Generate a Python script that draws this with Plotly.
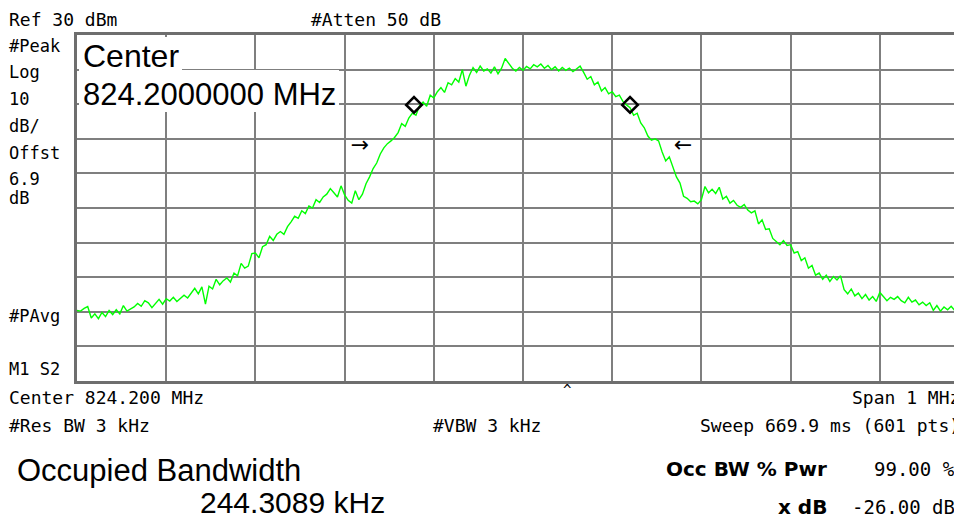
import numpy as np
import plotly.graph_objects as go

# ---------------- data ----------------
center_mhz = 824.2
span_mhz = 1.0
ref_dbm = 30
db_per_div = 10
step_mhz = 0.004  # spacing of the read-off trace samples

trace_dbm = [
    -49.6, -49.8, -49.0, -48.5, -51.8, -50.6, -52.0, -50.2, -51.4, -49.6,
    -50.8, -49.4, -50.6, -48.2, -49.8, -49.2, -48.6, -47.6, -48.4, -46.8,
    -47.4, -48.8, -47.6, -46.4, -47.8, -46.2, -46.9, -45.8, -47.0, -46.0,
    -45.2, -46.0, -44.6, -43.2, -44.8, -42.8, -47.8, -42.6, -43.4, -40.6,
    -42.2, -41.0, -40.2, -41.4, -38.8, -39.6, -36.0, -37.4, -36.8, -33.2,
    -33.0, -34.4, -31.2, -30.6, -28.2, -29.4, -27.6, -26.8, -27.6, -25.4,
    -24.0, -22.4, -23.0, -20.8, -21.6, -19.4, -20.0, -17.6, -18.4, -16.8,
    -16.0, -14.4, -15.6, -16.8, -13.6, -16.2, -17.8, -18.6, -15.0, -17.6,
    -16.0, -13.0, -11.0, -8.6, -7.0, -4.4, -2.6, -1.4, -0.6, 0.4,
    1.8, 4.4, 3.6, 6.0, 7.4, 6.8, 9.6, 10.6, 9.4, 12.6,
    11.8, 13.6, 14.8, 13.4, 16.2, 15.6, 17.4, 16.4, 20.0, 15.2,
    18.4, 20.6, 19.2, 21.0, 19.6, 20.2, 19.0, 20.8, 18.8, 20.4,
    23.2, 21.6, 20.4, 19.6, 20.6, 19.8, 20.9, 20.2, 21.4, 20.8,
    21.6, 20.4, 21.2, 20.0, 20.8, 19.6, 20.6, 19.8, 20.4, 19.4,
    20.2, 21.0, 19.2, 17.2, 18.0, 15.6, 16.4, 13.8, 14.8, 13.0,
    13.6, 12.2, 12.6, 10.8, 9.8, 9.0, 6.8, 7.4, 4.6, 3.2,
    0.8, -0.4, 0.0, -0.6, -3.8, -6.4, -5.2, -8.4, -11.0, -12.8,
    -16.6, -17.2, -18.2, -18.0, -18.8, -17.6, -13.8, -15.6, -14.6, -15.8,
    -14.0, -17.4, -16.6, -18.6, -17.8, -19.2, -19.8, -19.0, -20.6, -21.4,
    -20.8, -24.6, -23.4, -26.2, -26.0, -28.8, -29.8, -30.6, -29.4, -30.8,
    -30.6, -33.0, -32.6, -35.2, -34.4, -37.4, -36.6, -39.4, -38.8, -40.6,
    -39.4, -41.2, -39.8, -40.8, -39.6, -43.6, -44.8, -43.4, -45.4, -44.6,
    -46.2, -45.0, -46.6, -45.6, -47.0, -44.4, -45.6, -46.8, -45.8, -46.4,
    -45.6, -46.8, -47.4, -45.8, -47.2, -46.6, -48.0, -47.2, -48.2, -47.4,
    -49.6, -48.2, -49.8, -48.6, -49.4, -48.4, -49.6, -48.0, -47.2,
]

marker_freq_mhz = [824.0778, 824.3200]
marker_dbm = [9.8, 9.8]

arrow_freq_mhz = [824.0173, 824.3794]
arrow_dbm = [-2.1, -2.1]
arrow_text = ["→", "←"]

start_mhz = center_mhz - span_mhz / 2
freqs = [start_mhz + i * step_mhz for i in range(len(trace_dbm))]

# ---------------- layout helpers ----------------
# page pixels of the plot frame (the page body has an 8 px margin)
OFF = 8
L, R, T, B = 77, 962, 35, 381
W, H = 962 - OFF, 522 - OFF
def px(x):
    return (x - L) / (R - L)
def py(y):
    return (B - y) / (B - T)

visible_span = span_mhz * (R - L) / 892.0

fig = go.Figure()
fig.add_trace(go.Scatter(
    x=freqs, y=trace_dbm, mode="lines",
    line=dict(color="#00ff00", width=1.4),
    hoverinfo="skip", showlegend=False,
))
fig.add_trace(go.Scatter(
    x=marker_freq_mhz, y=marker_dbm, mode="markers",
    marker=dict(symbol="diamond-open", size=12, color="black",
                line=dict(width=2.6, color="black")),
    showlegend=False, hoverinfo="skip",
))
fig.add_trace(go.Scatter(
    x=arrow_freq_mhz, y=arrow_dbm, mode="text", text=arrow_text,
    textfont=dict(family="DejaVu Sans", size=22, color="black"),
    showlegend=False, hoverinfo="skip",
))

grid = "#7f7f7f"
fig.update_layout(
    width=W, height=H,
    margin=dict(l=L - OFF, r=W - (R - OFF), t=T - OFF, b=H - (B - OFF), pad=0),
    paper_bgcolor="white", plot_bgcolor="white",
    xaxis=dict(range=[start_mhz, start_mhz + visible_span], tick0=start_mhz,
               dtick=span_mhz / 10, showgrid=True, gridcolor=grid, gridwidth=2,
               showticklabels=False, ticks="", zeroline=False,
               showline=True, linecolor="#6e6e6e", linewidth=3, mirror=True,
               fixedrange=True),
    yaxis=dict(range=[ref_dbm - 10 * db_per_div, ref_dbm], tick0=ref_dbm,
               dtick=db_per_div, showgrid=True, gridcolor=grid, gridwidth=2,
               showticklabels=False, ticks="", zeroline=False,
               showline=True, linecolor="#6e6e6e", linewidth=3, mirror=False,
               fixedrange=True),
)

# white boxes behind the big center-frequency readout
fig.add_shape(type="rect", xref="paper", yref="paper",
              x0=px(79), x1=px(182), y0=py(70), y1=py(37),
              fillcolor="white", line=dict(width=0), layer="above")
fig.add_shape(type="rect", xref="paper", yref="paper",
              x0=px(79), x1=px(339), y0=py(112), y1=py(70),
              fillcolor="white", line=dict(width=0), layer="above")

mono = "DejaVu Sans Mono"
sans = "Liberation Sans"

def txt(x, y, s, size=18, family=mono, anchor="left", bold=False):
    fig.add_annotation(x=px(x), y=py(y), xref="paper", yref="paper",
                       text=("<b>%s</b>" % s) if bold else s, showarrow=False,
                       xanchor=anchor, yanchor="middle", borderpad=0,
                       font=dict(family=family, size=size, color="black"))

txt(8, 20, "Ref 30 dBm")
txt(310, 20, "#Atten 50 dB")
left_labels = [("#Peak", 46), ("Log", 72), ("10", 99), ("dB/", 126),
               ("Offst", 153), ("6.9", 179), ("dB", 198),
               ("#PAvg", 316), ("M1 S2", 369)]
for s, y in left_labels:
    txt(8, y, s, size=17)

txt(82, 56, "Center", size=32, family=sans)
txt(82, 94, "824.2000000 MHz", size=31, family=sans)

txt(562, 390, "^", size=14)
txt(8, 397, "Center 824.200 MHz")
txt(961, 397, "Span 1 MHz", anchor="right")
txt(8, 425, "#Res BW 3 kHz")
txt(432, 425, "#VBW 3 kHz")
txt(961, 425, "Sweep 669.9 ms (601 pts)", anchor="right")

txt(16, 470, "Occupied Bandwidth", size=31, family=sans)
txt(199, 503, "244.3089 kHz", size=30, family=sans)
txt(828, 469, "Occ BW % Pwr", size=20, family="DejaVu Sans", anchor="right", bold=True)
txt(956, 469, "99.00 %", size=19, anchor="right")
txt(828, 507, "x dB", size=20, family="DejaVu Sans", anchor="right", bold=True)
txt(956, 507, "-26.00 dB", size=19, anchor="right")

fig.write_html("out.html", config={"displayModeBar": False})
